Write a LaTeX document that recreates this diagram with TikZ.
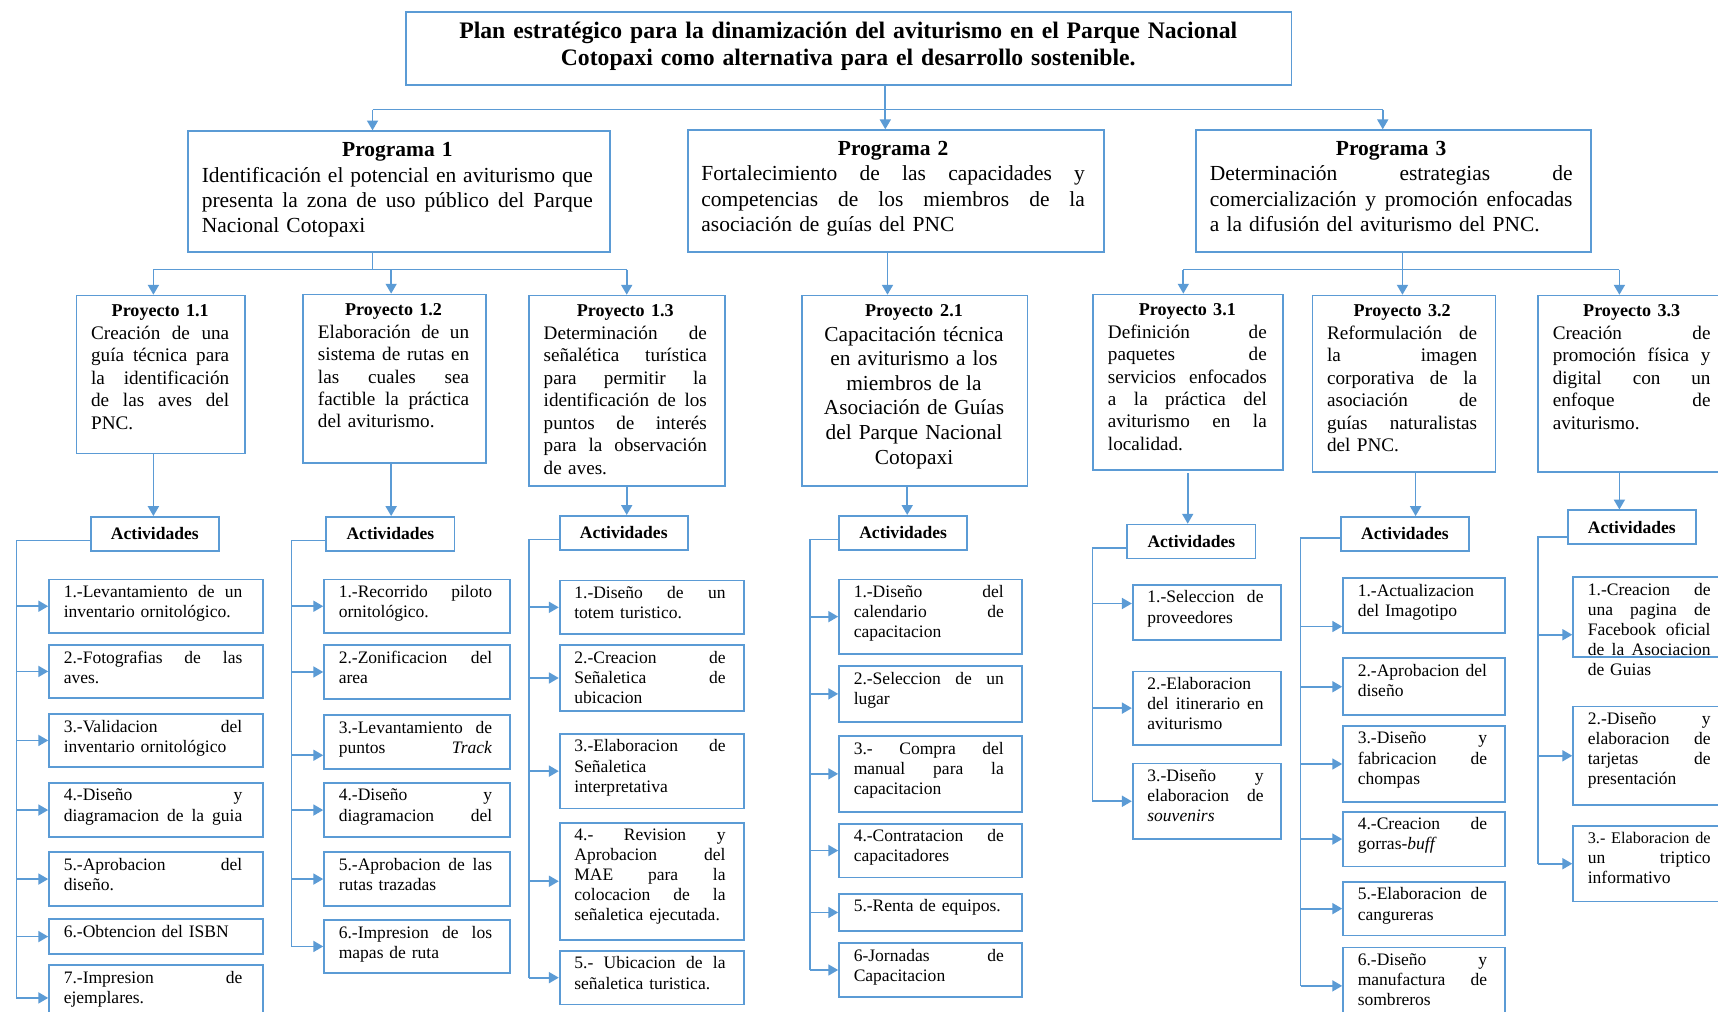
\documentclass[tikz,border=0pt]{standalone}
\usepackage{fontspec}
\setmainfont{Liberation Serif}
\usetikzlibrary{arrows.meta}
\definecolor{lb}{HTML}{5B9BD5}
\hbadness=10000
\hfuzz=20pt
\newlength\twid
% one justified line, one left line, one centred line of a text block
\newcommand\jlin[1]{\hbox to\twid{\spaceskip=.25em plus 1em minus .08em\xspaceskip=\spaceskip #1}\par}
\newcommand\llin[1]{\hbox to\twid{#1\hfil}\par}
\newcommand\clin[1]{\hbox to\twid{\hfil#1\hfil}\par}
% framed box with top-aligned text: name, x, y, width, height, text style, text width, lines
\newcommand\tb[8]{%
  \global\twid=#7pt\relax
  \node[box, anchor=north west, minimum width=#4pt, minimum height=#5pt] (#1) at (#2,#3) {};
  \node[#6, anchor=north west, inner sep=0pt, text width=#7pt] (#1-t) at (#1.north west) {#8};}
\tikzset{
  box/.style={draw=lb, line width=1.6pt, inner sep=0pt},
  ln/.style={draw=lb, line width=1.6pt},
  arr/.style={draw=lb, line width=1.6pt, -{Triangle[length=9pt,width=10pt]}},
  ttl/.style={font=\fontsize{21.6}{25}\selectfont\bfseries, xshift=14pt, yshift=-10pt},
  prg/.style={font=\fontsize{19.6}{23}\selectfont, xshift=13pt, yshift=-11pt},
  prj/.style={font=\fontsize{17.5}{20.5}\selectfont, xshift=14pt, yshift=-9pt},
  prjc/.style={font=\fontsize{19.5}{22.4}\selectfont, xshift=14pt, yshift=-9pt},
  act/.style={font=\fontsize{16}{18.4}\selectfont, xshift=14pt, yshift=-6pt},
  actbox/.style={box, anchor=north west, minimum width=117pt, minimum height=31pt,
    font=\fontsize{16}{18}\selectfont\bfseries},
}
\newcommand\ph[1]{{\fontsize{16.5}{20}\selectfont\bfseries #1}}
\begin{document}
\begin{tikzpicture}[x=1pt, y=-1pt]
\fill[white] (0,0) rectangle (1568,923);
\useasboundingbox (0,0) rectangle (1568,923);
\clip (0,0) rectangle (1568,923);

% ---------- title ----------
\tb{T}{370}{10}{808}{67}{ttl}{780}{%
  \clin{Plan estratégico para la dinamización del aviturismo en el Parque Nacional}
  \clin{Cotopaxi como alternativa para el desarrollo sostenible.}}

% ---------- programmes ----------
\tb{P1}{171}{119}{385}{110}{prg}{357}{%
  \clin{\bfseries Programa 1}
  \jlin{Identificación el potencial en aviturismo que}
  \jlin{presenta la zona de uso público del Parque}
  \llin{Nacional Cotopaxi}}
\tb{P2}{627}{118}{380}{111}{prg}{350}{%
  \clin{\bfseries Programa 2}
  \jlin{Fortalecimiento de las capacidades y}
  \jlin{competencias de los miembros de la}
  \llin{asociación de guías del PNC}}
\tb{P3}{1091}{118}{360}{111}{prg}{331}{%
  \clin{\bfseries Programa 3}
  \jlin{Determinación estrategias de}
  \jlin{comercialización y promoción enfocadas}
  \llin{a la difusión del aviturismo del PNC.}}

% ---------- projects ----------
\tb{PR11}{69}{269}{154}{144}{prj}{126}{%
  \clin{\ph{Proyecto 1.1}}
  \jlin{Creación de una}\jlin{guía técnica para}\jlin{la identificación}
  \jlin{de las aves del}\llin{PNC.}}
\tb{PR12}{276}{268}{167}{154}{prj}{138}{%
  \clin{\ph{Proyecto 1.2}}
  \jlin{Elaboración de un}\jlin{sistema de rutas en}\jlin{las cuales sea}
  \jlin{factible la práctica}\llin{del aviturismo.}}
\tb{PR13}{482}{269}{179}{174}{prj}{149}{%
  \clin{\ph{Proyecto 1.3}}
  \jlin{Determinación de}\jlin{señalética turística}\jlin{para permitir la}
  \jlin{identificación de los}\jlin{puntos de interés}\jlin{para la observación}
  \llin{de aves.}}
\tb{PR21}{731}{269}{206}{174}{prjc}{178}{%
  \clin{\ph{Proyecto 2.1}}
  \clin{Capacitación técnica}\clin{en aviturismo a los}\clin{miembros de la}
  \clin{Asociación de Guías}\clin{del Parque Nacional}\clin{Cotopaxi}}
\tb{PR31}{997}{268}{173}{160}{prj}{145}{%
  \clin{\ph{Proyecto 3.1}}
  \jlin{Definición de}\jlin{paquetes de}\jlin{servicios enfocados}
  \jlin{a la práctica del}\jlin{aviturismo en la}\llin{localidad.}}
\tb{PR32}{1197}{269}{167}{161}{prj}{137}{%
  \clin{\ph{Proyecto 3.2}}
  \jlin{Reformulación de}\jlin{la imagen}\jlin{corporativa de la}
  \jlin{asociación de}\jlin{guías naturalistas}\llin{del PNC.}}
\tb{PR33}{1403}{269}{173}{161}{prj}{144}{%
  \clin{\ph{Proyecto 3.3}}
  \jlin{Creación de}\jlin{promoción física y}\jlin{digital con un}
  \jlin{enfoque de}\llin{aviturismo.}}

% ---------- activity headers ----------
\node[actbox] (A1) at (82,471) {Actividades};
\node[actbox] (A2) at (297,471) {Actividades};
\node[actbox] (A3) at (510,470) {Actividades};
\node[actbox] (A4) at (765,470) {Actividades};
\node[actbox] (A5) at (1028,478) {Actividades};
\node[actbox] (A6) at (1223,471) {Actividades};
\node[actbox] (A7) at (1430,465) {Actividades};

% ---------- activities, project 1.1 ----------
\tb{a11}{44}{528}{195}{49}{act}{163}{\jlin{1.-Levantamiento de un}\llin{inventario ornitológico.}}
\tb{a12}{44}{588}{195}{48}{act}{163}{\jlin{2.-Fotografias de las}\llin{aves.}}
\tb{a13}{44}{651}{195}{48}{act}{163}{\jlin{3.-Validacion del}\llin{inventario ornitológico}}
\tb{a14}{44}{714}{195}{49}{act}{163}{\jlin{4.-Diseño y}\jlin{diagramacion de la guia}}
\tb{a15}{44}{777}{195}{49}{act}{163}{\jlin{5.-Aprobacion del}\llin{diseño.}}
\tb{a16}{44}{838}{195}{32}{act}{163}{\llin{6.-Obtencion del ISBN}}
\tb{a17}{44}{880}{195}{60}{act}{163}{\jlin{7.-Impresion de}\llin{ejemplares.}}

% ---------- activities, project 1.2 ----------
\tb{a21}{295}{528}{170}{49}{act}{140}{\jlin{1.-Recorrido piloto}\llin{ornitológico.}}
\tb{a22}{295}{588}{170}{49}{act}{140}{\jlin{2.-Zonificacion del}\llin{area}}
\tb{a23}{295}{652}{170}{49}{act}{140}{\jlin{3.-Levantamiento de}\jlin{puntos \textit{Track}}}
\tb{a24}{295}{714}{170}{49}{act}{140}{\jlin{4.-Diseño y}\jlin{diagramacion del}}
\tb{a25}{295}{777}{170}{49}{act}{140}{\jlin{5.-Aprobacion de las}\llin{rutas trazadas}}
\tb{a26}{295}{839}{170}{48}{act}{140}{\jlin{6.-Impresion de los}\llin{mapas de ruta}}

% ---------- activities, project 1.3 ----------
\tb{a31}{510}{529}{168}{49}{act}{138}{\jlin{1.-Diseño de un}\llin{totem turistico.}}
\tb{a32}{510}{588}{168}{60}{act}{138}{\jlin{2.-Creacion de}\jlin{Señaletica de}\llin{ubicacion}}
\tb{a33}{510}{669}{168}{68}{act}{138}{\jlin{3.-Elaboracion de}\llin{Señaletica}\llin{interpretativa}}
\tb{a34}{510}{750}{168}{107}{act}{138}{\jlin{4.- Revision y}\jlin{Aprobacion del}\jlin{MAE para la}\jlin{colocacion de la}\llin{señaletica ejecutada.}}
\tb{a35}{510}{867}{168}{49}{act}{138}{\jlin{5.- Ubicacion de la}\llin{señaletica turistica.}}

% ---------- activities, project 2.1 ----------
\tb{a41}{765}{528}{167}{68}{act}{137}{\jlin{1.-Diseño del}\jlin{calendario de}\llin{capacitacion}}
\tb{a42}{765}{607}{167}{51}{act}{137}{\jlin{2.-Seleccion de un}\llin{lugar}}
\tb{a43}{765}{671}{167}{69}{act}{137}{\jlin{3.- Compra del}\jlin{manual para la}\llin{capacitacion}}
\tb{a44}{765}{751}{167}{49}{act}{137}{\jlin{4.-Contratacion de}\llin{capacitadores}}
\tb{a45}{765}{815}{167}{34}{act}{137}{\llin{5.-Renta de equipos.}}
\tb{a46}{765}{860}{167}{49}{act}{137}{\jlin{6-Jornadas de}\llin{Capacitacion}}

% ---------- activities, project 3.1 ----------
\tb{a51}{1033}{533}{135}{50}{act}{106}{\jlin{1.-Seleccion de}\llin{proveedores}}
\tb{a52}{1033}{612}{135}{67}{act}{106}{\llin{2.-Elaboracion}\jlin{del itinerario en}\llin{aviturismo}}
\tb{a53}{1033}{696}{135}{69}{act}{106}{\jlin{3.-Diseño y}\jlin{elaboracion de}\llin{\textit{souvenirs}}}

% ---------- activities, project 3.2 ----------
\tb{a61}{1225}{527}{148}{50}{act}{118}{\llin{1.-Actualizacion}\llin{del Imagotipo}}
\tb{a62}{1225}{600}{148}{52}{act}{118}{\jlin{2.-Aprobacion del}\llin{diseño}}
\tb{a63}{1225}{662}{148}{69}{act}{118}{\jlin{3.-Diseño y}\jlin{fabricacion de}\llin{chompas}}
\tb{a64}{1225}{740}{148}{50}{act}{118}{\jlin{4.-Creacion de}\llin{gorras-\textit{buff}}}
\tb{a65}{1225}{804}{148}{49}{act}{118}{\jlin{5.-Elaboracion de}\llin{cangureras}}
\tb{a66}{1225}{864}{148}{70}{act}{118}{\jlin{6.-Diseño y}\jlin{manufactura de}\llin{sombreros}}

% ---------- activities, project 3.3 ----------
\tb{a71}{1435}{526}{152}{73}{act}{112}{\jlin{1.-Creacion de}\jlin{una pagina de}\jlin{Facebook oficial}\jlin{de la Asociacion}\llin{de Guias}}
\tb{a72}{1435}{644}{152}{90}{act}{112}{\jlin{2.-Diseño y}\jlin{elaboracion de}\jlin{tarjetas de}\llin{presentación}}
\tb{a73}{1435}{753}{152}{69}{act}{112}{\jlin{\fontsize{14.8}{18.4}\selectfont 3.- Elaboracion de}\jlin{un triptico}\llin{informativo}}

% ---------- title to programmes ----------
\coordinate (b0) at (808,100);
\coordinate (b1) at (340,100);
\coordinate (b3) at (1262,100);
\draw[ln] (b0 |- T.south) -- (b0);
\draw[ln] (b1) -- (b3);
\draw[arr] (b1) -- (b1 |- P1.north);
\draw[arr] (b0) -- (b0 |- P2.north);
\draw[arr] (b3) -- (b3 |- P3.north);

% ---------- programmes to projects ----------
\coordinate (c1) at (340,246);
\coordinate (d11) at (140,246);
\coordinate (d12) at (357,246);
\coordinate (d13) at (572,246);
\draw[ln] (c1 |- P1.south) -- (c1);
\draw[ln] (d11) -- (d13);
\draw[arr] (d11) -- (d11 |- PR11.north);
\draw[arr] (d12) -- (d12 |- PR12.north);
\draw[arr] (d13) -- (d13 |- PR13.north);

\coordinate (c2) at (810,246);
\draw[arr] (c2 |- P2.south) -- (c2 |- PR21.north);

\coordinate (c3) at (1280,246);
\coordinate (d31) at (1080,246);
\coordinate (d33) at (1478,246);
\draw[ln] (c3 |- P3.south) -- (c3);
\draw[ln] (d31) -- (d33);
\draw[arr] (d31) -- (d31 |- PR31.north);
\draw[arr] (c3) -- (c3 |- PR32.north);
\draw[arr] (d33) -- (d33 |- PR33.north);

% ---------- projects to activity headers ----------
\coordinate (e1) at (140,0);
\coordinate (e2) at (357,0);
\coordinate (e3) at (572,0);
\coordinate (e4) at (828,0);
\coordinate (e5) at (1084,432);
\coordinate (e6) at (1292,0);
\coordinate (e7) at (1478,0);
\draw[arr] (e1 |- PR11.south) -- (e1 |- A1.north);
\draw[arr] (e2 |- PR12.south) -- (e2 |- A2.north);
\draw[arr] (e3 |- PR13.south) -- (e3 |- A3.north);
\draw[arr] (e4 |- PR21.south) -- (e4 |- A4.north);
\draw[arr] (e5) -- (e5 |- A5.north);
\draw[arr] (e6 |- PR32.south) -- (e6 |- A6.north);
\draw[arr] (e7 |- PR33.south) -- (e7 |- A7.north);

% ---------- activity spines ----------
\coordinate (s1) at (15,0);
\coordinate (s2) at (266,0);
\coordinate (s3) at (483,0);
\coordinate (s4) at (739,0);
\coordinate (s5) at (997,0);
\coordinate (s6) at (1187,0);
\coordinate (s7) at (1404,0);
\coordinate (a23w) at ([yshift=-12pt]a23.west);
\coordinate (a51w) at ([yshift=8pt]a51.west);
\coordinate (a61w) at ([yshift=-19pt]a61.west);
\coordinate (a71w) at ([yshift=-16pt]a71.west);

\draw[ln] ([yshift=-6pt]A1.west) -| (s1 |- a17.west);
\foreach \b in {a11,a12,a13,a14,a15,a16,a17} \draw[arr] (s1 |- \b.west) -- (\b.west);

\draw[ln] ([yshift=-6pt]A2.west) -| (s2 |- a26.west);
\foreach \b in {a21,a22,a24,a25,a26} \draw[arr] (s2 |- \b.west) -- (\b.west);
\draw[arr] (s2 |- a23w) -- (a23w);

\draw[ln] ([yshift=-6pt]A3.west) -| (s3 |- a35.west);
\foreach \b in {a31,a32,a33,a34,a35} \draw[arr] (s3 |- \b.west) -- (\b.west);

\draw[ln] ([yshift=-6pt]A4.west) -| (s4 |- a46.west);
\foreach \b in {a41,a42,a43,a44,a45,a46} \draw[arr] (s4 |- \b.west) -- (\b.west);

\draw[ln] ([yshift=-6pt]A5.west) -| (s5 |- a53.west);
\foreach \b in {a52,a53} \draw[arr] (s5 |- \b.west) -- (\b.west);
\draw[arr] (s5 |- a51w) -- (a51w);

\draw[ln] ([yshift=-4pt]A6.west) -| (s6 |- a66.west);
\foreach \b in {a62,a63,a64,a65,a66} \draw[arr] (s6 |- \b.west) -- (\b.west);
\draw[arr] (s6 |- a61w) -- (a61w);

\draw[ln] ([yshift=-9pt]A7.west) -| (s7 |- a73.west);
\foreach \b in {a72,a73} \draw[arr] (s7 |- \b.west) -- (\b.west);
\draw[arr] (s7 |- a71w) -- (a71w);
\end{tikzpicture}
\end{document}
